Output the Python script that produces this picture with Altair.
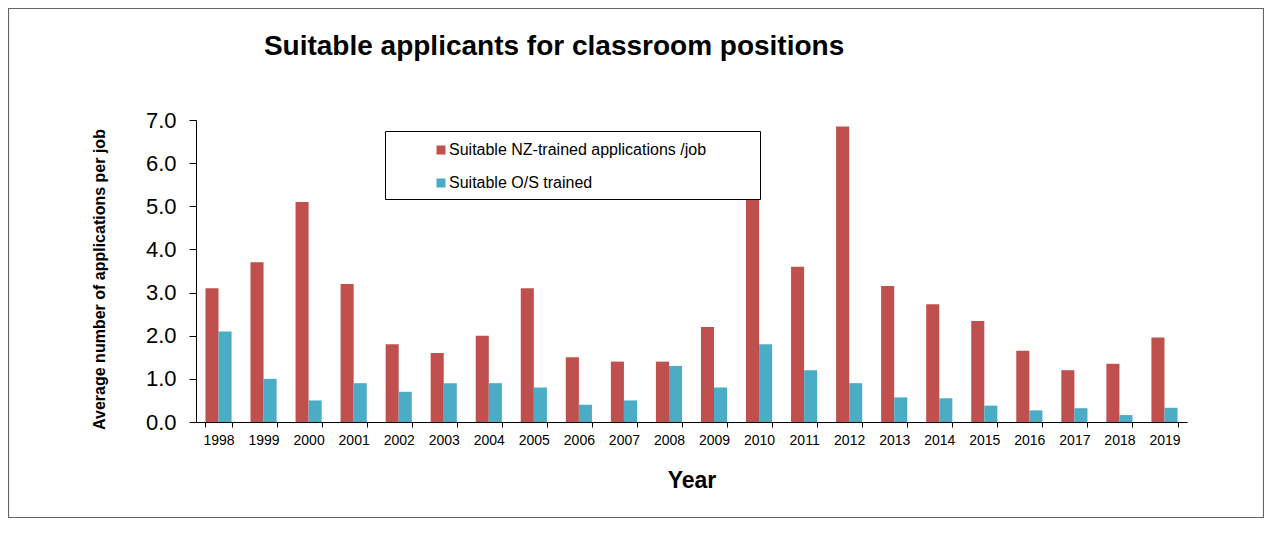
import altair as alt
import pandas as pd

years = [str(y) for y in range(1998, 2020)]
nz_trained = [3.1, 3.7, 5.1, 3.2, 1.8, 1.6, 2.0, 3.1, 1.5, 1.4, 1.4, 2.2,
              6.1, 3.6, 6.85, 3.15, 2.73, 2.34, 1.65, 1.2, 1.35, 1.96]
os_trained = [2.1, 1.0, 0.5, 0.9, 0.7, 0.9, 0.9, 0.8, 0.4, 0.5, 1.3, 0.8,
              1.8, 1.2, 0.9, 0.57, 0.55, 0.38, 0.27, 0.32, 0.16, 0.33]
series_names = ["Suitable NZ-trained applications /job", "Suitable O/S trained"]
series_colors = ["#C0504D", "#4BACC6"]

rows = []
for i, y in enumerate(years):
    rows.append({"Year": y, "Series": series_names[0], "Value": nz_trained[i]})
    rows.append({"Year": y, "Series": series_names[1], "Value": os_trained[i]})
df = pd.DataFrame(rows)

FONT = "Liberation Sans"
W, H = 991, 302

bars = alt.Chart(df).mark_bar().encode(
    x=alt.X("Year:N", sort=years,
            scale=alt.Scale(paddingInner=0.42, paddingOuter=0.21),
            axis=alt.Axis(title="Year", labelAngle=0, labelFontSize=14, labelFont=FONT,
                          labelColor="black", tickBand="extent", tickSize=5,
                          tickColor="black", domainColor="black", labelPadding=6,
                          titleFont=FONT, titleFontSize=23, titleFontWeight="bold",
                          titleColor="black", titlePadding=22)),
    xOffset=alt.XOffset("Series:N", sort=series_names, scale=alt.Scale(paddingInner=0, paddingOuter=0)),
    y=alt.Y("Value:Q", scale=alt.Scale(domain=[0, 7], nice=False),
            axis=alt.Axis(title="Average number of applications per job",
                          values=[0, 1, 2, 3, 4, 5, 6, 7], format=".1f",
                          labelFontSize=22, labelFont=FONT, labelColor="black",
                          tickSize=7, tickColor="black", domainColor="black",
                          labelPadding=13, grid=False,
                          titleFont=FONT, titleFontSize=16, titleFontWeight="bold",
                          titleColor="black", titlePadding=38, titleY=159)),
    color=alt.Color("Series:N", sort=series_names,
                    scale=alt.Scale(domain=series_names, range=series_colors),
                    legend=alt.Legend(title=None, orient="none", legendX=237, legendY=22,
                                      labelFont=FONT, labelFontSize=16, labelColor="black",
                                      symbolType="square", symbolSize=81,
                                      symbolStrokeWidth=0, rowPadding=17, padding=0,
                                      labelOffset=0, labelLimit=400)),
)

frame_df = pd.DataFrame({"k": [1]})
legend_box = alt.Chart(frame_df).mark_rect(fill="white", stroke="black", strokeWidth=1).encode(
    x=alt.value(189.5), x2=alt.value(564.5), y=alt.value(11.5), y2=alt.value(79.5)
)
outer_frame = alt.Chart(frame_df).mark_rect(fill=None, stroke="#666666", strokeWidth=1.2).encode(
    x=alt.value(-187.5), x2=alt.value(1067.5), y=alt.value(-111.5), y2=alt.value(397.5)
)

chart = alt.layer(bars, legend_box, outer_frame).properties(
    width=W, height=H,
    autosize=alt.AutoSizeParams(type="none"),
    padding={"left": 188, "top": 112, "right": 77, "bottom": 104},
    title=alt.Title("Suitable applicants for classroom positions", anchor="start",
                    font=FONT, fontSize=28, fontWeight="bold", color="black",
                    baseline="alphabetic", dx=256, dy=75, offset=0),
).configure(background="white", view=alt.ViewConfig(strokeWidth=0))

chart.save("out.html", embed_options={"renderer": "svg", "actions": False})
